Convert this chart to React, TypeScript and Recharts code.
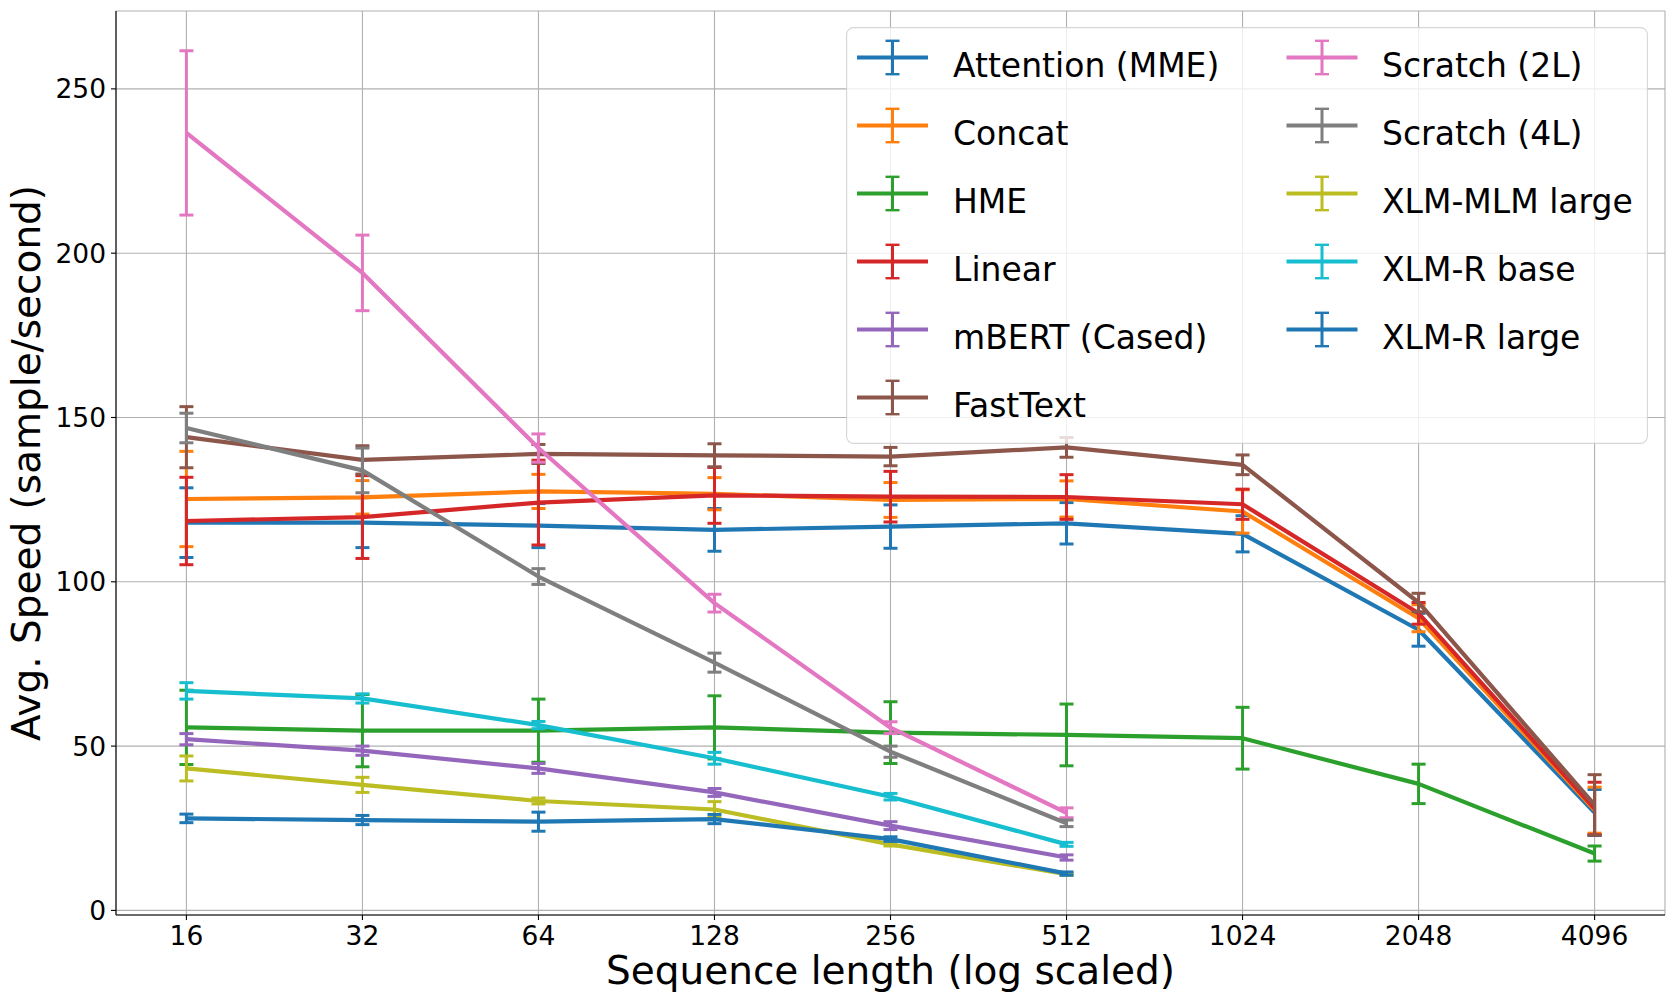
import React from 'react';
import { LineChart, Line, XAxis, YAxis, CartesianGrid, ErrorBar, Legend, Label } from 'recharts';

const FONT = '"DejaVu Sans", Verdana, sans-serif';

const seqLengths = [16, 32, 64, 128, 256, 512, 1024, 2048, 4096];
const xTicks = seqLengths.map((n) => Math.log2(n));
const yTicks = [0, 50, 100, 150, 200, 250];
const X_DOMAIN: [number, number] = [3.6, 12.4];
const Y_DOMAIN: [number, number] = [-1.4, 273.7];

const seriesNames = [
  'Attention (MME)',
  'Concat',
  'HME',
  'Linear',
  'mBERT (Cased)',
  'FastText',
  'Scratch (2L)',
  'Scratch (4L)',
  'XLM-MLM large',
  'XLM-R base',
  'XLM-R large',
];
const seriesColors = [
  '#1f77b4', '#ff7f0e', '#2ca02c', '#d62728', '#9467bd',
  '#8c564b', '#e377c2', '#7f7f7f', '#bcbd22', '#17becf', '#1f77b4',
];

const attentionMean = [118.0, 118.0, 117.1, 115.8, 116.8, 117.8, 114.6, 85.4, 29.8];
const attentionErr = [10.6, 7.6, 6.7, 6.5, 6.6, 6.3, 5.5, 5.0, 7.0];
const concatMean = [125.2, 125.7, 127.5, 126.8, 124.9, 125.2, 121.4, 88.9, 30.5];
const concatErr = [14.5, 5.1, 5.2, 4.9, 5.3, 5.5, 6.6, 4.1, 7.0];
const hmeMean = [55.7, 54.7, 54.7, 55.7, 54.1, 53.4, 52.4, 38.5, 17.3];
const hmeErr = [11.3, 11.0, 9.6, 9.6, 9.4, 9.4, 9.4, 6.0, 2.3];
const linearMean = [118.5, 119.7, 124.1, 126.3, 125.9, 125.8, 123.6, 90.4, 31.0];
const linearErr = [13.3, 12.6, 12.9, 8.5, 7.7, 6.8, 4.6, 3.3, 8.0];
const mbertMean = [52.1, 48.6, 43.2, 35.9, 25.8, 16.1];
const mbertErr = [1.7, 1.4, 1.5, 1.2, 1.2, 0.8];
const fasttextMean = [144.0, 137.1, 138.9, 138.5, 138.1, 140.9, 135.6, 93.7, 32.1];
const fasttextErr = [9.3, 4.3, 2.9, 3.5, 2.8, 3.0, 3.0, 2.8, 9.2];
const scratch2Mean = [236.6, 194.0, 140.7, 93.5, 55.6, 29.7];
const scratch2Err = [25.0, 11.5, 4.3, 2.7, 1.8, 1.5];
const scratch4Mean = [146.8, 133.9, 101.6, 75.4, 48.3, 26.5];
const scratch4Err = [4.5, 6.8, 2.4, 2.9, 1.7, 1.0];
const xlmMlmMean = [43.2, 38.2, 33.3, 30.7, 20.1, 11.0];
const xlmMlmErr = [3.8, 2.3, 0.9, 2.4, 0.5, 0.3];
const xlmrBaseMean = [66.8, 64.5, 56.4, 46.3, 34.6, 20.1];
const xlmrBaseErr = [2.5, 1.4, 1.1, 1.8, 1.0, 0.6];
const xlmrLargeMean = [28.0, 27.5, 27.0, 27.8, 21.7, 11.2];
const xlmrLargeErr = [1.3, 1.4, 2.9, 1.4, 0.7, 0.5];

const seriesMeans = [
  attentionMean, concatMean, hmeMean, linearMean, mbertMean, fasttextMean,
  scratch2Mean, scratch4Mean, xlmMlmMean, xlmrBaseMean, xlmrLargeMean,
];
const seriesErrs = [
  attentionErr, concatErr, hmeErr, linearErr, mbertErr, fasttextErr,
  scratch2Err, scratch4Err, xlmMlmErr, xlmrBaseErr, xlmrLargeErr,
];

const seriesData = seriesMeans.map((means, i) =>
  means.map((v, j) => ({ lx: Math.log2(seqLengths[j]), v, e: seriesErrs[i][j] }))
);

const LEG_W = 802;
const LEG_H = 417;

const renderLegend = () => (
  <svg width={LEG_W} height={LEG_H} style={{ display: 'block' }}>
    <rect
      x={0.6}
      y={0.6}
      width={LEG_W - 1.2}
      height={LEG_H - 1.2}
      rx={7}
      ry={7}
      fill="#ffffff"
      fillOpacity={0.8}
      stroke="#cccccc"
      strokeOpacity={0.8}
      strokeWidth={1.1}
    />
    {seriesNames.map((name, i) => {
      const col = i < 6 ? 0 : 1;
      const row = i < 6 ? i : i - 6;
      const hx = col === 0 ? 11 : 440.5;
      const hw = 71;
      const cx = hx + hw / 2;
      const tx = col === 0 ? 107 : 536;
      const hy = 30.5 + 68 * row;
      const c = seriesColors[i];
      return (
        <g key={name}>
          <line x1={hx} y1={hy} x2={hx + hw} y2={hy} stroke={c} strokeWidth={4.2} />
          <line x1={cx} y1={hy - 16.7} x2={cx} y2={hy + 16.7} stroke={c} strokeWidth={3} />
          <line x1={cx - 7} y1={hy - 16.7} x2={cx + 7} y2={hy - 16.7} stroke={c} strokeWidth={2.4} />
          <line x1={cx - 7} y1={hy + 16.7} x2={cx + 7} y2={hy + 16.7} stroke={c} strokeWidth={2.4} />
          <text x={tx} y={hy + 19} fontFamily={FONT} fontSize={33} fill="#000">
            {name}
          </text>
        </g>
      );
    })}
  </svg>
);

const XLabel = (props: any) => {
  const vb = props.viewBox || { x: 116, y: 915, width: 1549, height: 91 };
  return (
    <text x={vb.x + vb.width / 2} y={vb.y + 69} textAnchor="middle" fontFamily={FONT} fontSize={39} fill="#000">
      Sequence length (log scaled)
    </text>
  );
};

const YLabel = (props: any) => {
  const vb = props.viewBox || { x: 0, y: 11, width: 116, height: 904 };
  const x = vb.x + 40;
  const y = vb.y + vb.height / 2;
  return (
    <text x={x} y={y} transform={`rotate(-90, ${x}, ${y})`} textAnchor="middle" fontFamily={FONT} fontSize={39} fill="#000">
      Avg. Speed (sample/second)
    </text>
  );
};

export default function App() {
  return (
    <div style={{ position: 'absolute', left: 0, top: 0, width: 1676, height: 1006, background: '#fff' }}>
      <LineChart width={1676} height={1006} margin={{ top: 11, right: 11, left: 0, bottom: 0 }}>
        <CartesianGrid stroke="#b0b0b0" strokeWidth={1.1} />
        <XAxis
          dataKey="lx"
          type="number"
          domain={X_DOMAIN}
          ticks={xTicks}
          allowDataOverflow
          tickFormatter={(v: number) => String(Math.round(Math.pow(2, v)))}
          height={91}
          tickSize={5}
          tickMargin={6}
          axisLine={{ stroke: '#000', strokeWidth: 1.1 }}
          tickLine={{ stroke: '#000', strokeWidth: 1.1 }}
          tick={{ fill: '#000', fontSize: 26.5, fontFamily: FONT }}
          interval={0}
        >
          <Label content={XLabel} />
        </XAxis>
        <XAxis
          xAxisId="top"
          orientation="top"
          type="number"
          domain={X_DOMAIN}
          allowDataOverflow
          height={0}
          tick={false}
          tickLine={false}
          axisLine={{ stroke: '#000', strokeWidth: 1.1 }}
        />
        <YAxis
          type="number"
          domain={Y_DOMAIN}
          ticks={yTicks}
          allowDataOverflow
          width={116}
          tickSize={5}
          tickMargin={5}
          axisLine={{ stroke: '#000', strokeWidth: 1.1 }}
          tickLine={{ stroke: '#000', strokeWidth: 1.1 }}
          tick={{ fill: '#000', fontSize: 26.5, fontFamily: FONT }}
          interval={0}
        >
          <Label content={YLabel} />
        </YAxis>
        <YAxis
          yAxisId="right"
          orientation="right"
          type="number"
          domain={Y_DOMAIN}
          allowDataOverflow
          width={0}
          tick={false}
          tickLine={false}
          axisLine={{ stroke: '#000', strokeWidth: 1.1 }}
        />
        {seriesNames.map((name, i) => (
          <Line
            key={name}
            data={seriesData[i]}
            dataKey="v"
            name={name}
            type="linear"
            stroke={seriesColors[i]}
            strokeWidth={4.2}
            strokeLinejoin="round"
            dot={false}
            activeDot={false}
            isAnimationActive={false}
          >
            <ErrorBar
              dataKey="e"
              direction="y"
              width={7}
              stroke={seriesColors[i]}
              strokeWidth={3}
              isAnimationActive={false}
            />
          </Line>
        ))}
        <Legend
          layout="vertical"
          align="center"
          verticalAlign="middle"
          content={renderLegend}
          wrapperStyle={{ position: 'absolute', left: 846, top: 27, width: LEG_W, height: LEG_H, margin: 0, padding: 0 }}
        />
      </LineChart>
    </div>
  );
}
